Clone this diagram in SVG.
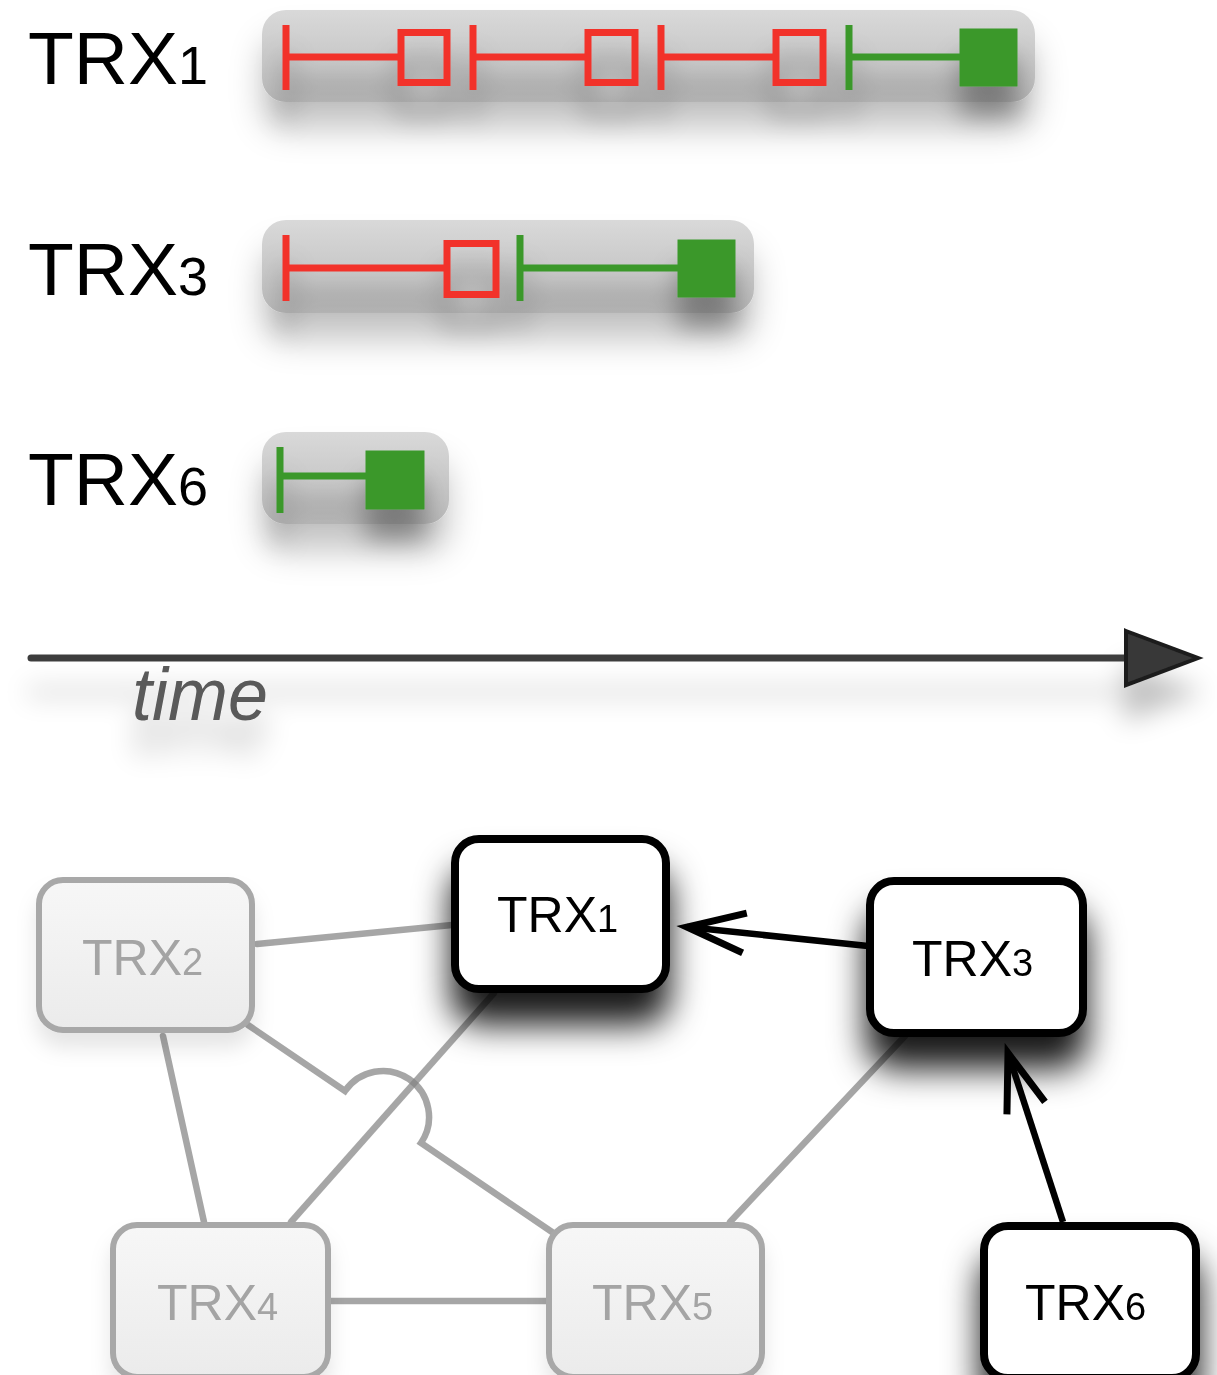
<svg xmlns="http://www.w3.org/2000/svg" width="1217" height="1375" viewBox="0 0 1217 1375">
<style>
.lbl{font-family:"Liberation Sans",Arial,sans-serif;font-size:75px;fill:#000}
.lbl .d{font-size:54px}
.red{stroke:#f2322a;stroke-width:7;fill:none}
.grn{stroke:#3a982c;stroke-width:7;fill:none}
.gfill{fill:#3a982c;stroke:#3a982c;stroke-width:1}
.tlbox{fill:url(#tlg)}
.nb{fill:#fff;stroke:#000;stroke-width:8}
.ng{fill:url(#ngg);stroke:#a8a8a8;stroke-width:6}
.nt{font-family:"Liberation Sans",Arial,sans-serif;font-size:50px}
.nt .d{font-size:38px}
.tb{fill:#000}
.tg{fill:#a4a4a4}
.ge{stroke:#848484;stroke-opacity:0.72;stroke-width:6.5;fill:none;stroke-linecap:round}
.be{stroke:#000;stroke-width:6.5;fill:none}
</style>
<defs>
<linearGradient id="tlg" x1="0" y1="0" x2="0" y2="1">
<stop offset="0" stop-color="#d9d9d9"/>
<stop offset="1" stop-color="#bababa"/>
</linearGradient>
<linearGradient id="ngg" x1="0" y1="0" x2="0" y2="1">
<stop offset="0" stop-color="#f7f7f7"/>
<stop offset="1" stop-color="#ebebeb"/>
</linearGradient>
<filter id="shTL" x="-20%" y="-50%" width="140%" height="260%">
<feDropShadow dx="0" dy="28" stdDeviation="16" flood-color="#000" flood-opacity="0.22"/>
</filter>
<filter id="shIn" x="-30%" y="-60%" width="160%" height="260%">
<feDropShadow dx="0" dy="30" stdDeviation="13" flood-color="#000" flood-opacity="0.35"/>
</filter>
<filter id="shAx" filterUnits="userSpaceOnUse" x="0" y="590" width="1217" height="230">
<feDropShadow dx="0" dy="34" stdDeviation="13" flood-color="#000" flood-opacity="0.24"/>
</filter>
<filter id="shNb" x="-50%" y="-50%" width="200%" height="230%">
<feDropShadow dx="0" dy="32" stdDeviation="17" flood-color="#000" flood-opacity="0.9"/>
</filter>
<filter id="shNg" x="-30%" y="-30%" width="160%" height="180%">
<feDropShadow dx="0" dy="15" stdDeviation="10" flood-color="#000" flood-opacity="0.1"/>
</filter>
<marker id="vh" markerUnits="userSpaceOnUse" markerWidth="120" markerHeight="120" refX="0" refY="0" orient="auto" overflow="visible">
<path d="M-58,-20 L0,0 L-58,20" fill="none" stroke="#000" stroke-width="7" stroke-linejoin="miter" stroke-miterlimit="6"/>
</marker>
</defs>
<rect width="1217" height="1375" fill="#fff"/>

<!-- Timeline rows -->
<g id="row-trx1">
<text class="lbl" x="28" y="84">TRX<tspan class="d">1</tspan></text>
<rect class="tlbox" x="262" y="10" width="773" height="92" rx="24" filter="url(#shTL)"/>
<g filter="url(#shIn)">
<path class="red" d="M286,25V90M286,57H398M401,32.5H447V82.5H401Z"/>
<path class="red" d="M473,25V90M473,57H585M588,32.5H635V82.5H588Z"/>
<path class="red" d="M661,25V90M661,57H773M776,32.5H823V82.5H776Z"/>
<path class="grn" d="M849,25V90M849,57H960"/>
<rect class="gfill" x="960" y="29" width="57" height="57"/>
</g>
</g>

<g id="row-trx3">
<text class="lbl" x="28" y="295">TRX<tspan class="d">3</tspan></text>
<rect class="tlbox" x="262" y="220" width="492" height="93" rx="24" filter="url(#shTL)"/>
<g filter="url(#shIn)">
<path class="red" d="M286,235V301M286,268H444M447,243.5H496V294.5H447Z"/>
<path class="grn" d="M520,235V301M520,268H678"/>
<rect class="gfill" x="678" y="240" width="57" height="57"/>
</g>
</g>

<g id="row-trx6">
<text class="lbl" x="28" y="505">TRX<tspan class="d">6</tspan></text>
<rect class="tlbox" x="262" y="432" width="187" height="92" rx="24" filter="url(#shTL)"/>
<g filter="url(#shIn)">
<path class="grn" d="M280,447V513M280,476H366"/>
<rect class="gfill" x="366" y="451" width="58" height="58"/>
</g>
</g>

<g id="time-axis" filter="url(#shAx)">
<line x1="31" y1="658" x2="1126" y2="658" stroke="#3c3c3c" stroke-width="7" stroke-linecap="round"/>
<path d="M1126,631 L1198,658 L1126,685 Z" fill="#383838" stroke="#1c1c1c" stroke-width="4" stroke-linejoin="miter"/>
<text x="132" y="720" font-family="'Liberation Sans',Arial,sans-serif" font-style="italic" font-size="74" fill="#5a5a5a" textLength="136" lengthAdjust="spacingAndGlyphs">time</text>
</g>

<!-- Connectors -->
<g id="connectors">
<line class="ge" x1="257" y1="944" x2="452" y2="925"/>
<line class="ge" x1="163" y1="1036" x2="204" y2="1222"/>
<path class="ge" d="M248,1025 L345,1091 A45,45 0 0 1 421,1143 L552,1232"/>
<line class="ge" x1="494" y1="993" x2="291" y2="1222"/>
<line class="ge" x1="330" y1="1301" x2="546" y2="1301"/>
<line class="ge" x1="905" y1="1036" x2="730" y2="1222"/>
<line class="be" x1="868" y1="946" x2="687" y2="927" marker-end="url(#vh)"/>
<line class="be" x1="1063" y1="1222" x2="1008" y2="1053" marker-end="url(#vh)"/>
</g>

<!-- Graph nodes -->
<g id="n-trx2" filter="url(#shNg)">
<rect class="ng" x="39" y="880" width="213" height="150" rx="24"/>
<text class="nt tg" x="82" y="975">TRX<tspan class="d">2</tspan></text>
</g>
<g id="n-trx4" filter="url(#shNg)">
<rect class="ng" x="113" y="1225" width="215" height="152" rx="24"/>
<text class="nt tg" x="157" y="1320">TRX<tspan class="d">4</tspan></text>
</g>
<g id="n-trx5" filter="url(#shNg)">
<rect class="ng" x="549" y="1225" width="213" height="152" rx="24"/>
<text class="nt tg" x="592" y="1320">TRX<tspan class="d">5</tspan></text>
</g>
<g id="n-trx1" filter="url(#shNb)">
<rect class="nb" x="455" y="839" width="211" height="150" rx="24"/>
<text class="nt tb" x="497" y="932">TRX<tspan class="d">1</tspan></text>
</g>
<g id="n-trx3" filter="url(#shNb)">
<rect class="nb" x="870" y="881" width="213" height="152" rx="24"/>
<text class="nt tb" x="912" y="976">TRX<tspan class="d">3</tspan></text>
</g>
<g id="n-trx6" filter="url(#shNb)">
<rect class="nb" x="984" y="1226" width="212" height="152" rx="24"/>
<text class="nt tb" x="1025" y="1320">TRX<tspan class="d">6</tspan></text>
</g>
</svg>
